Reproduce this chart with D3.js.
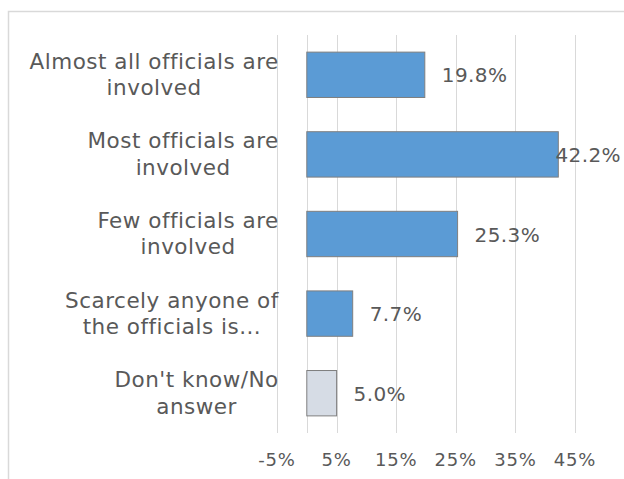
<!DOCTYPE html>
<html>
<head>
<meta charset="utf-8">
<script src="https://cdn.jsdelivr.net/npm/d3@7"></script>
<style>
  html, body { margin: 0; padding: 0; background: #fff; }
  svg text { font-family: "DejaVu Sans", Verdana, sans-serif; fill: #595959; }
</style>
</head>
<body>
<div id="chart"></div>
<script>
// Survey answers: how many officials are involved
const categories = [
  "Almost all officials are involved",
  "Most officials are involved",
  "Few officials are involved",
  "Scarcely anyone of the officials is involved",
  "Don't know/No answer"
];
// Category labels as wrapped (and truncated) on the axis
const categoryLines = [
  ["Almost all officials are", "involved"],
  ["Most officials are", "involved"],
  ["Few officials are", "involved"],
  ["Scarcely anyone of", "the officials is..."],
  ["Don't know/No", "answer"]
];
const values = [19.8, 42.2, 25.3, 7.7, 5.0];
const valueLabels = ["19.8%", "42.2%", "25.3%", "7.7%", "5.0%"];
const tickValues = [-5, 5, 15, 25, 35, 45];
const tickLabels = ["-5%", "5%", "15%", "25%", "35%", "45%"];
const barFills = ["#5b9bd5", "#5b9bd5", "#5b9bd5", "#5b9bd5", "#d6dce5"];

const W = 624, H = 479;
const svg = d3.select("#chart").append("svg")
  .attr("width", W).attr("height", H);

// chart frame (runs past the right and bottom edges)
svg.append("rect")
  .attr("x", 8.5).attr("y", 11.5)
  .attr("width", W + 20).attr("height", H + 20)
  .attr("fill", "none").attr("stroke", "#d9d9d9").attr("stroke-width", 1.5);

const plotTop = 35, plotBottom = 433;
const x = d3.scaleLinear().domain([-5, 45]).range([277, 575]);
const y = d3.scaleBand().domain(categories).range([plotTop, plotBottom])
  .paddingInner(0.43).paddingOuter(0.215);

// vertical gridlines
svg.append("g").selectAll("line").data(tickValues).join("line")
  .attr("x1", d => Math.round(x(d)) + 0.5).attr("x2", d => Math.round(x(d)) + 0.5)
  .attr("y1", plotTop).attr("y2", plotBottom)
  .attr("stroke", "#d9d9d9").attr("stroke-width", 1);

// category axis line at zero
svg.append("line")
  .attr("x1", Math.round(x(0)) + 0.5).attr("x2", Math.round(x(0)) + 0.5)
  .attr("y1", plotTop).attr("y2", plotBottom)
  .attr("stroke", "#d9d9d9").attr("stroke-width", 1);

// bars
svg.append("g").selectAll("rect").data(values).join("rect")
  .attr("x", x(0))
  .attr("y", (d, i) => y(categories[i]))
  .attr("width", d => x(d) - x(0))
  .attr("height", y.bandwidth())
  .attr("fill", (d, i) => barFills[i])
  .attr("stroke", "#7f7f7f").attr("stroke-width", 1);

// value labels, kept inside the chart area
const labelG = svg.append("g");
values.forEach((v, i) => {
  const t = labelG.append("text")
    .attr("font-size", 20)
    .attr("letter-spacing", 0.4)
    .attr("y", y(categories[i]) + y.bandwidth() / 2 + 7.5)
    .text(valueLabels[i]);
  const w = t.node().getComputedTextLength();
  const xs = Math.min(x(v) + 17, 621 - w);
  t.attr("x", xs);
});

// category labels: each block right-aligned to the axis, lines centred in the block
const labelRight = 278.5;
const catG = svg.append("g");
categoryLines.forEach((lines, i) => {
  const cy = y(categories[i]) + y.bandwidth() / 2;
  const t = catG.append("text")
    .attr("text-anchor", "middle")
    .attr("font-size", 21.5)
    .attr("letter-spacing", 0.5);
  const spans = lines.map((ln, j) => t.append("tspan")
    .attr("y", cy - 6 + j * 26.4)
    .text(ln));
  const maxW = d3.max(spans, s => s.node().getComputedTextLength()) - 0.5;
  spans.forEach(s => s.attr("x", labelRight - maxW / 2));
});

// x axis tick labels
svg.append("g").selectAll("text").data(tickValues).join("text")
  .attr("x", d => x(d))
  .attr("y", 465.5)
  .attr("text-anchor", "middle")
  .attr("font-size", 18)
  .attr("letter-spacing", 0.8)
  .text((d, i) => tickLabels[i]);
</script>
</body>
</html>
